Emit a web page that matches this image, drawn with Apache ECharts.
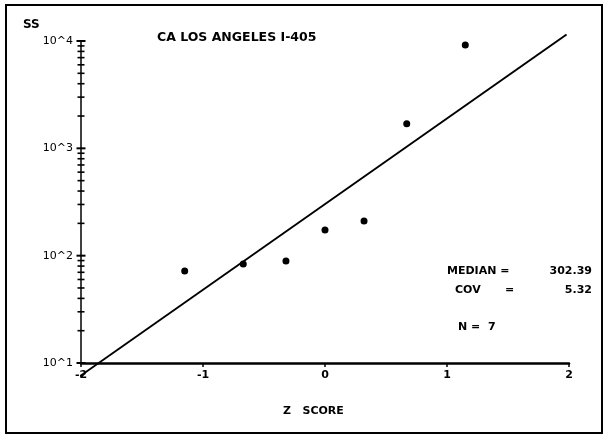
<!DOCTYPE html>
<html>
<head>
<meta charset="utf-8">
<script src="https://cdn.jsdelivr.net/npm/echarts@6/dist/echarts.min.js"></script>
<style>
  html, body { margin: 0; padding: 0; background: #fff; }
  #chart { width: 604px; height: 436px; }
</style>
</head>
<body>
<div id="chart"></div>
<script>
// Observed SS values against their normal scores (plotting position i/(n+1))
const zScores = [-1.15, -0.67, -0.32, 0, 0.32, 0.67, 1.15];
const ssValues = [72, 83.6, 89, 173, 210, 1690, 9180];

// Fitted lognormal summary
const median = 302.39;
const cov = 5.32;
const nObs = 7;

// Axis ticks and labels
const xTicks = [-2, -1, 0, 1, 2];
const yDecades = [10, 100, 1000, 10000];
const yTickLabels = ['10^1', '10^2', '10^3', '10^4'];
const yMinorTicks = [20, 30, 40, 50, 60, 70, 80, 90,
                     200, 300, 400, 500, 600, 700, 800, 900,
                     2000, 3000, 4000, 5000, 6000, 7000, 8000, 9000];

// Fitted line: log10(SS) = log10(median) + sigma10 * z
const sigma10 = Math.sqrt(Math.log(1 + cov * cov)) / Math.LN10;
const lineZ = [-2.02, 1.98];
const fitLine = lineZ.map(z => [z, Math.pow(10, Math.log10(median) + sigma10 * z)]);

const font = '"DejaVu Sans", "Liberation Sans", sans-serif';
const chart = echarts.init(document.getElementById('chart'));

chart.setOption({
  animation: false,
  backgroundColor: '#ffffff',
  grid: { left: 81, right: 35, top: 41, bottom: 73 },
  xAxis: {
    type: 'value',
    min: -2, max: 2, interval: 1,
    axisLine: { show: true, onZero: false, lineStyle: { color: '#000', width: 2.5 } },
    axisTick: { show: true, length: 4, lineStyle: { color: '#000', width: 1.5 } },
    splitLine: { show: false },
    axisLabel: {
      color: '#000', fontFamily: font, fontWeight: 'bold', fontSize: 11, margin: 7,
      formatter: v => String(xTicks[xTicks.indexOf(v)])
    }
  },
  yAxis: {
    type: 'log',
    logBase: 10,
    min: 10, max: 10000,
    axisLine: { show: true, onZero: false, lineStyle: { color: '#000', width: 1.5 } },
    axisTick: { show: false },
    splitLine: { show: false },
    axisLabel: {
      color: '#000', fontFamily: font, fontSize: 11, margin: 8,
      formatter: v => {
        const i = yDecades.findIndex(d => Math.abs(d - v) / d < 1e-6);
        return i >= 0 ? yTickLabels[i] : '';
      }
    }
  },
  series: [
    {
      name: 'minor ticks',
      type: 'scatter',
      silent: true,
      symbol: 'rect',
      symbolSize: [7, 1.6],
      itemStyle: { color: '#000', opacity: 1 },
      data: yMinorTicks.map(v => [-2, v]),
      clip: false,
      z: 3
    },
    {
      name: 'major ticks',
      type: 'scatter',
      silent: true,
      symbol: 'rect',
      symbolSize: [9, 2],
      itemStyle: { color: '#000', opacity: 1 },
      data: yDecades.map(v => [-2, v]),
      clip: false,
      z: 3
    },
    {
      name: 'fit',
      type: 'line',
      data: fitLine,
      showSymbol: false,
      symbol: 'none',
      clip: false,
      lineStyle: { color: '#000', width: 2 },
      z: 4
    },
    {
      name: 'SS',
      type: 'scatter',
      symbol: 'circle',
      symbolSize: 7,
      itemStyle: { color: '#000', opacity: 1 },
      data: zScores.map((z, i) => [z, ssValues[i]]),
      z: 5
    }
  ],
  graphic: [
    {
      type: 'rect',
      shape: { x: 6, y: 5, width: 596, height: 428 },
      style: { fill: 'none', stroke: '#000', lineWidth: 2 },
      silent: true
    },
    {
      type: 'text', left: 23, top: 19,
      style: { text: 'SS', font: 'bold 12px ' + font, fill: '#000' }
    },
    {
      type: 'text', left: 157, top: 31,
      style: { text: 'CA LOS ANGELES I-405', font: 'bold 12.5px ' + font, fill: '#000' }
    },
    {
      type: 'text', left: 447, top: 266,
      style: { text: 'MEDIAN =', font: 'bold 11px ' + font, fill: '#000' }
    },
    {
      type: 'text', right: 12, top: 266,
      style: { text: median.toFixed(2), font: 'bold 11px ' + font, fill: '#000', align: 'right' }
    },
    {
      type: 'text', left: 455, top: 285,
      style: { text: 'COV', font: 'bold 11px ' + font, fill: '#000' }
    },
    {
      type: 'text', left: 505, top: 285,
      style: { text: '=', font: 'bold 11px ' + font, fill: '#000' }
    },
    {
      type: 'text', right: 12, top: 285,
      style: { text: cov.toFixed(2), font: 'bold 11px ' + font, fill: '#000', align: 'right' }
    },
    {
      type: 'text', left: 458, top: 322,
      style: { text: 'N =  ' + nObs, font: 'bold 11px ' + font, fill: '#000' }
    },
    {
      type: 'text', left: 283, top: 406,
      style: { text: 'Z   SCORE', font: 'bold 11px ' + font, fill: '#000' }
    }
  ]
});
</script>
</body>
</html>
